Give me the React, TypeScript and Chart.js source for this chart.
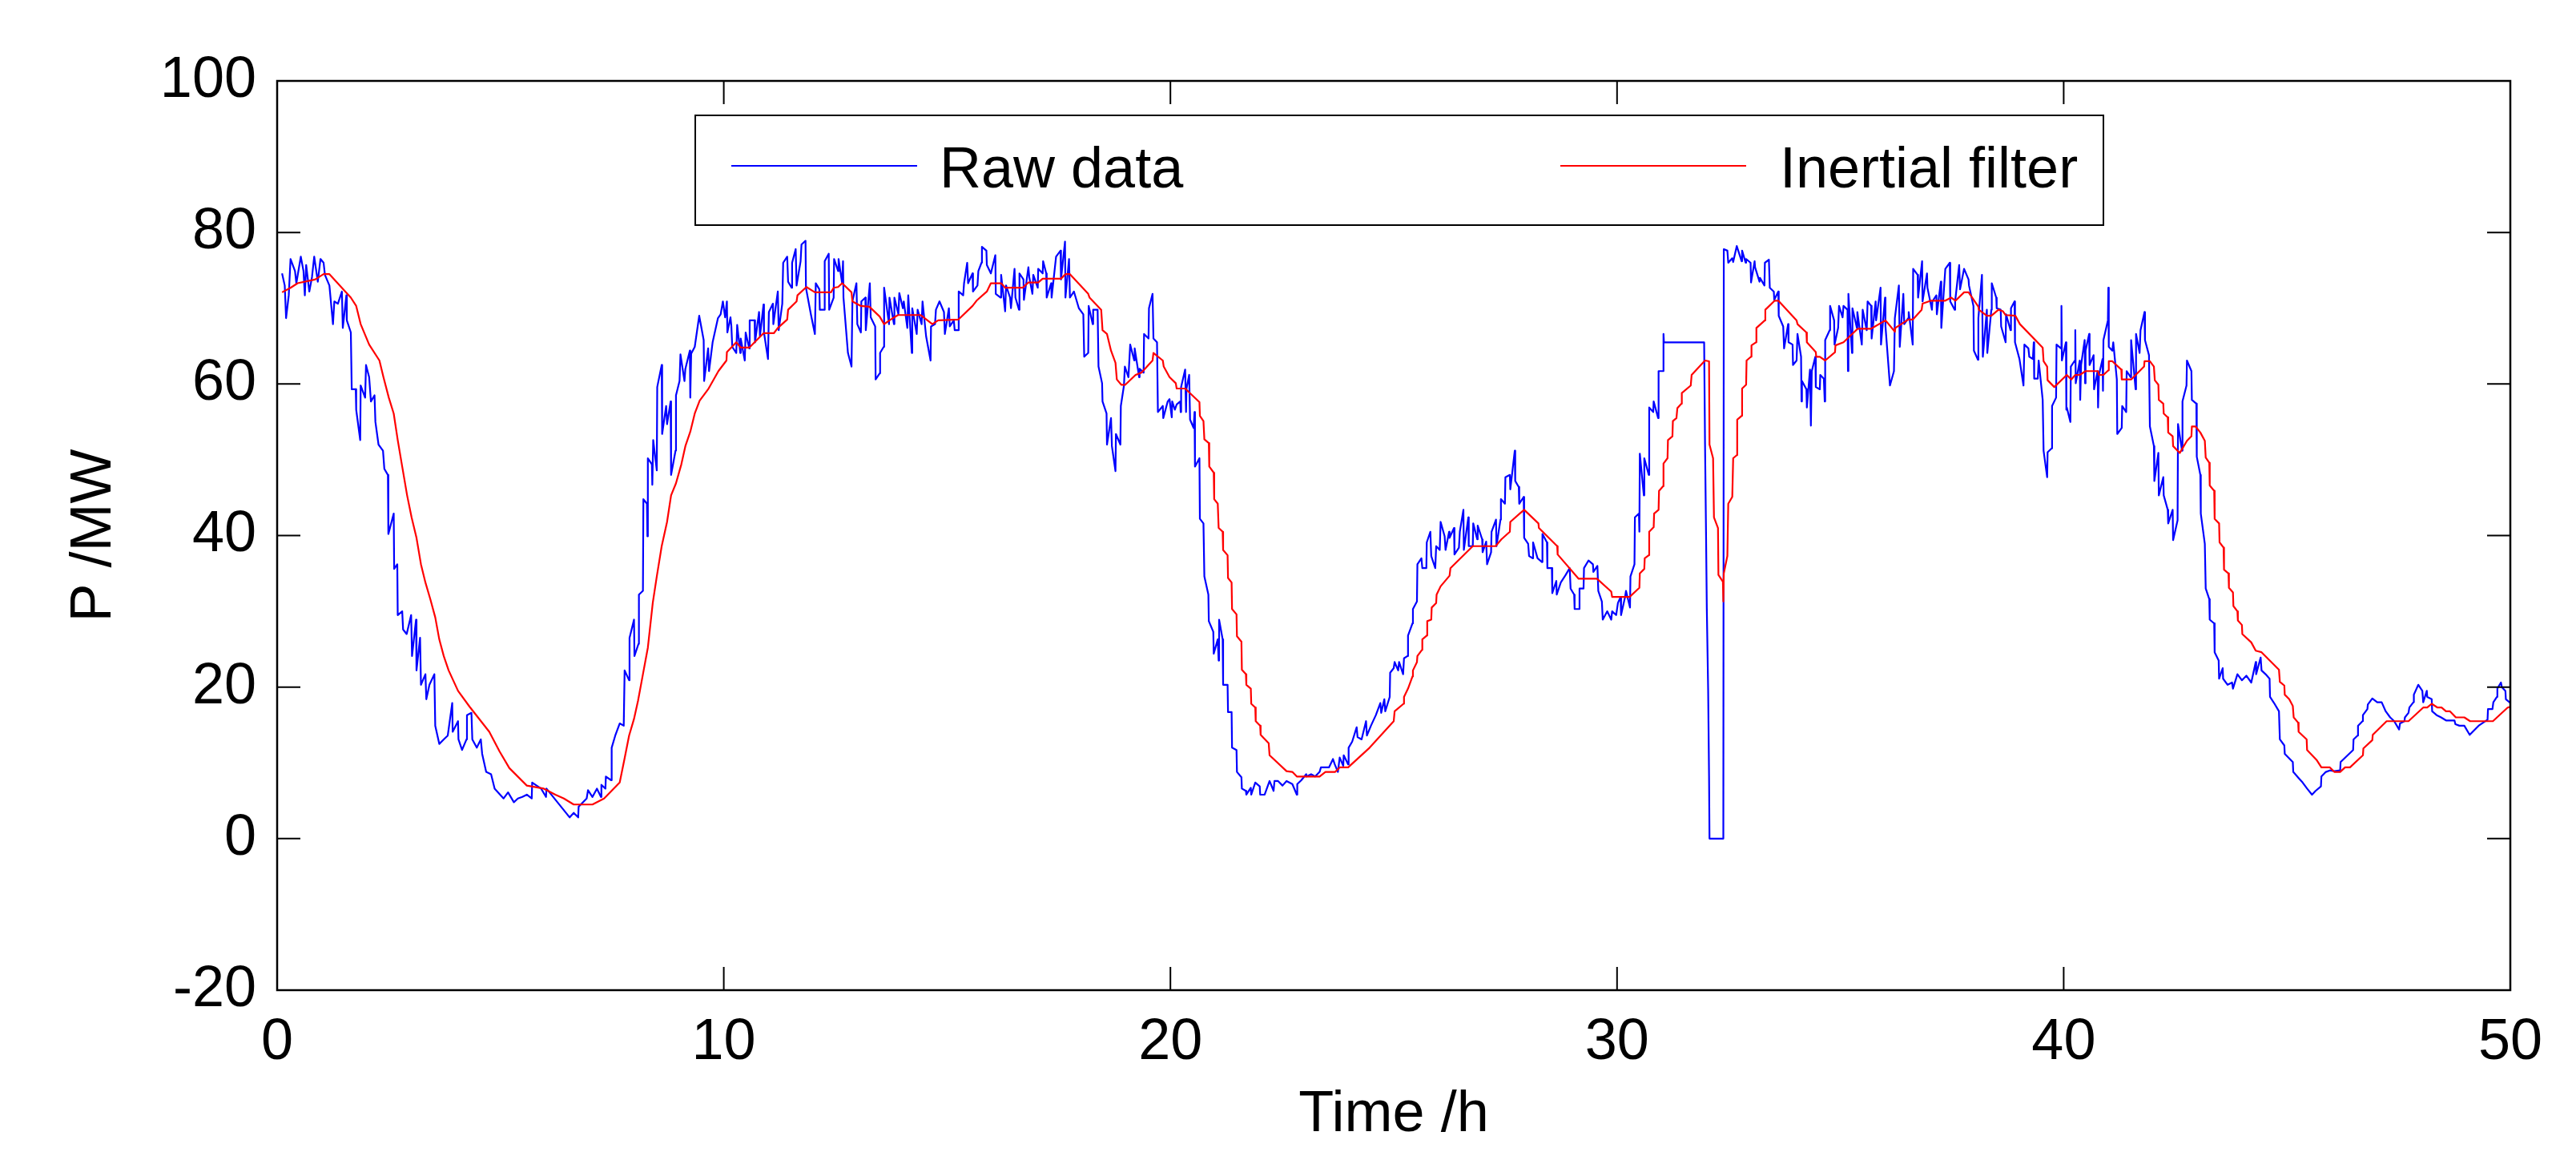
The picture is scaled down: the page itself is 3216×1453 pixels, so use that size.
import { useEffect, useRef } from 'react';
import { Chart, registerables } from 'chart.js';

Chart.register(...registerables);

const hourTicks = [0, 10, 20, 30, 40, 50];
const powerTicks = [-20, 0, 20, 40, 60, 80, 100];
const seriesNames = ['Raw data', 'Inertial filter'];

// [time /h, power /MW]
const rawPower: [number, number][] = [
  // 0 - 10 h
  [0.11, 74.6], [0.17, 73.0], [0.20, 68.7], [0.26, 71.7], [0.30, 76.5], [0.40, 74.9], [0.43, 73.3], [0.53, 76.8],
  [0.59, 74.9], [0.62, 71.7], [0.65, 75.7], [0.72, 72.2], [0.78, 74.1], [0.83, 76.8], [0.91, 73.5], [0.97, 76.5],
  [1.04, 76.0], [1.07, 74.4], [1.17, 73.0], [1.25, 67.9], [1.28, 70.9], [1.36, 70.6], [1.45, 72.2], [1.47, 67.4],
  [1.55, 71.7], [1.56, 68.4], [1.65, 66.8], [1.67, 59.3], [1.76, 59.3], [1.77, 56.6], [1.86, 52.6], [1.87, 59.8],
  [1.97, 58.2], [1.99, 62.5], [2.06, 60.9], [2.10, 57.7], [2.18, 58.5], [2.20, 55.0], [2.27, 52.0], [2.37, 51.2],
  [2.40, 48.8], [2.48, 48.0], [2.49, 40.2], [2.61, 42.9], [2.62, 35.6], [2.69, 36.2], [2.70, 29.5], [2.80, 30.0],
  [2.82, 27.6], [2.90, 27.0], [3.00, 29.5], [3.02, 24.1], [3.11, 28.9], [3.12, 22.2], [3.20, 26.5], [3.22, 20.3],
  [3.32, 21.7], [3.34, 18.4], [3.41, 20.3], [3.52, 21.7], [3.54, 14.9], [3.63, 12.5], [3.73, 13.1], [3.82, 13.6],
  [3.92, 17.9], [3.93, 14.1], [4.05, 15.5], [4.06, 13.1], [4.14, 11.7], [4.24, 13.1], [4.25, 16.3], [4.35, 16.6],
  [4.37, 13.1], [4.47, 12.0], [4.56, 13.1], [4.59, 11.2], [4.68, 8.8], [4.79, 8.5], [4.87, 6.6], [5.07, 5.3],
  [5.17, 6.1], [5.30, 4.8], [5.39, 5.3], [5.49, 5.5], [5.59, 5.8], [5.70, 5.3], [5.71, 7.4], [5.91, 6.6],
  [6.02, 5.5], [6.03, 6.6], [6.55, 2.8], [6.64, 3.4], [6.74, 2.8], [6.75, 4.2], [6.93, 5.3], [6.96, 6.4],
  [7.06, 5.5], [7.16, 6.6], [7.25, 5.5], [7.26, 7.1], [7.35, 6.6], [7.36, 8.2], [7.48, 7.7], [7.49, 12.0],
  [7.57, 13.6], [7.67, 15.2], [7.76, 14.9], [7.78, 22.2], [7.88, 20.9], [7.89, 26.5], [7.99, 28.9], [8.00, 24.1],
  [8.09, 25.7], [8.10, 32.2], [8.19, 32.7], [8.20, 44.8], [8.28, 44.2], [8.29, 39.9], [8.30, 50.2], [8.39, 49.4],
  [8.40, 46.7], [8.42, 52.6], [8.50, 48.6], [8.51, 59.6], [8.61, 62.5], [8.62, 53.4], [8.71, 57.1], [8.73, 54.7],
  [8.81, 57.7], [8.82, 48.0], [8.92, 51.2], [8.93, 58.5], [9.01, 60.4], [9.03, 63.9], [9.12, 60.4], [9.14, 62.0],
  [9.24, 64.4], [9.25, 58.2], [9.27, 64.0], [9.35, 64.9], [9.45, 69.0], [9.55, 65.8], [9.56, 60.4], [9.65, 64.7],
  [9.67, 61.7], [9.75, 65.5], [9.87, 68.7],
  // 10 - 20 h
  [9.93, 69.2], [9.98, 70.9], [10.03, 68.8], [10.07, 70.9], [10.08, 66.8], [10.15, 68.8], [10.17, 67.6], [10.19, 64.9],
  [10.28, 64.1], [10.30, 67.8], [10.37, 64.1], [10.38, 66.0], [10.47, 63.1], [10.49, 66.8], [10.57, 64.7], [10.58, 68.4],
  [10.69, 68.4], [10.70, 65.5], [10.79, 69.5], [10.81, 66.3], [10.89, 70.5], [10.90, 66.8], [10.99, 63.3], [11.01, 69.5],
  [11.10, 70.6], [11.11, 67.9], [11.21, 72.2], [11.23, 67.1], [11.31, 70.6], [11.33, 76.0], [11.42, 76.8], [11.44, 73.5],
  [11.52, 72.7], [11.53, 76.0], [11.61, 77.8], [11.63, 73.0], [11.72, 76.2], [11.74, 78.4], [11.83, 78.9], [11.84, 72.7],
  [11.95, 69.2], [12.04, 66.6], [12.06, 73.3], [12.14, 72.5], [12.15, 69.8], [12.25, 69.8], [12.26, 76.2], [12.35, 77.2],
  [12.36, 69.8], [12.46, 71.4], [12.47, 76.5], [12.56, 74.9], [12.57, 76.5], [12.65, 73.3], [12.67, 76.2], [12.68, 71.4],
  [12.78, 64.1], [12.86, 62.3], [12.88, 70.9], [12.97, 73.3], [12.99, 67.9], [13.07, 66.8], [13.08, 70.9], [13.17, 71.4],
  [13.18, 67.1], [13.27, 73.3], [13.29, 68.8], [13.39, 67.6], [13.40, 60.6], [13.49, 61.4], [13.50, 64.1], [13.58, 64.9],
  [13.59, 72.7], [13.70, 67.9], [13.71, 71.4], [13.81, 67.9], [13.82, 71.4], [13.91, 69.2], [13.93, 72.0], [14.01, 70.0],
  [14.03, 70.9], [14.11, 67.4], [14.13, 71.7], [14.21, 64.1], [14.22, 70.0], [14.32, 66.6], [14.34, 69.8], [14.43, 67.9],
  [14.45, 70.9], [14.53, 66.3], [14.63, 63.1], [14.64, 67.6], [14.73, 67.9], [14.75, 69.8], [14.83, 70.9], [14.93, 69.5],
  [14.95, 66.6], [15.04, 70.0], [15.06, 67.6], [15.15, 68.4], [15.17, 67.1], [15.25, 67.1], [15.26, 72.2], [15.36, 71.7],
  [15.38, 73.3], [15.45, 76.0], [15.47, 73.3], [15.57, 74.6], [15.58, 72.2], [15.68, 73.0], [15.70, 74.9], [15.77, 76.0],
  [15.78, 78.1], [15.88, 77.6], [15.89, 75.7], [15.98, 74.6], [16.08, 77.0], [16.09, 71.9], [16.20, 71.4], [16.21, 74.4],
  [16.30, 69.6], [16.32, 73.0], [16.41, 71.4], [16.43, 70.0], [16.51, 75.2], [16.53, 71.4], [16.61, 69.8], [16.62, 74.6],
  [16.71, 73.8], [16.72, 71.1], [16.82, 75.4], [16.84, 74.1], [16.91, 71.9], [16.93, 74.4], [17.03, 72.7], [17.04, 75.2],
  [17.14, 74.6], [17.15, 76.2], [17.22, 74.6], [17.23, 71.4], [17.33, 73.3], [17.34, 71.4], [17.44, 76.8], [17.54, 77.6],
  [17.55, 73.8], [17.64, 78.8], [17.65, 71.4], [17.73, 76.5], [17.75, 71.4], [17.84, 72.2], [17.95, 70.0], [18.05, 69.2],
  [18.07, 63.6], [18.16, 64.1], [18.17, 70.3], [18.26, 67.9], [18.27, 69.8], [18.37, 69.8], [18.39, 62.3], [18.47, 60.1],
  [18.48, 57.7], [18.57, 56.1], [18.58, 52.0], [18.67, 55.5], [18.69, 51.8], [18.77, 48.5], [18.78, 53.4], [18.88, 52.0],
  [18.89, 57.1], [18.96, 59.8], [18.98, 62.3], [19.06, 60.9], [19.10, 65.2], [19.19, 63.1], [19.20, 64.7], [19.30, 60.9],
  [19.31, 62.0], [19.40, 61.5], [19.41, 66.6], [19.51, 66.0], [19.52, 70.0], [19.60, 71.9], [19.62, 66.0], [19.70, 65.5],
  [19.72, 56.3], [19.83, 57.1], [19.84, 55.5], [19.94, 57.7],
  // 20 - 30 h
  [19.98, 58.0], [20.03, 55.6], [20.04, 57.7], [20.10, 56.6], [20.14, 57.3], [20.22, 57.7], [20.23, 56.3], [20.24, 59.6],
  [20.33, 61.9], [20.35, 56.3], [20.36, 59.4], [20.42, 61.2], [20.44, 55.3], [20.52, 54.2], [20.54, 56.3], [20.55, 49.1],
  [20.65, 50.2], [20.66, 42.2], [20.74, 41.6], [20.76, 34.6], [20.85, 32.2], [20.86, 28.7], [20.96, 27.3], [20.97, 24.4],
  [21.06, 26.3], [21.08, 23.5], [21.09, 28.9], [21.17, 26.3], [21.18, 20.3], [21.28, 20.3], [21.29, 16.7], [21.37, 16.7],
  [21.38, 12.0], [21.48, 11.7], [21.49, 8.8], [21.59, 8.1], [21.60, 6.6], [21.69, 6.3], [21.70, 5.8], [21.80, 6.7],
  [21.81, 5.8], [21.90, 7.4], [22.00, 6.9], [22.01, 5.8], [22.11, 5.8], [22.22, 7.6], [22.31, 6.3], [22.33, 7.6],
  [22.41, 7.6], [22.51, 7.0], [22.60, 7.6], [22.73, 7.2], [22.83, 5.8], [22.84, 7.2], [22.93, 7.7], [23.04, 8.5],
  [23.05, 8.2], [23.15, 8.5], [23.24, 8.2], [23.34, 8.8], [23.37, 9.4], [23.55, 9.4], [23.64, 10.5], [23.68, 9.8],
  [23.75, 8.8], [23.79, 10.7], [23.87, 9.6], [23.88, 11.0], [23.98, 9.8], [23.99, 12.0], [24.07, 12.8], [24.17, 14.7],
  [24.19, 13.4], [24.28, 13.1], [24.38, 15.5], [24.40, 13.6], [24.49, 14.9], [24.60, 16.3], [24.70, 17.9], [24.72, 16.6],
  [24.79, 18.4], [24.81, 16.8], [24.91, 18.7], [24.92, 21.9], [25.00, 22.5], [25.02, 23.3], [25.10, 22.2], [25.12, 23.3],
  [25.21, 21.7], [25.23, 23.8], [25.31, 24.1], [25.32, 26.8], [25.42, 28.4], [25.43, 30.3], [25.52, 31.3], [25.53, 36.2],
  [25.62, 37.0], [25.64, 35.7], [25.73, 35.7], [25.74, 39.1], [25.82, 40.5], [25.84, 37.3], [25.93, 35.7], [25.95, 38.6],
  [26.03, 38.1], [26.05, 41.8], [26.14, 39.9], [26.16, 38.1], [26.24, 40.5], [26.25, 39.7], [26.35, 41.0], [26.36, 37.5],
  [26.46, 38.4], [26.48, 40.5], [26.56, 43.4], [26.57, 38.1], [26.67, 42.4], [26.68, 38.6], [26.77, 38.6], [26.78, 41.6],
  [26.87, 39.5], [26.88, 41.3], [26.98, 39.5], [26.99, 37.8], [27.07, 39.2], [27.09, 36.2], [27.18, 37.8], [27.19, 40.5],
  [27.29, 42.1], [27.30, 38.6], [27.39, 42.1], [27.40, 44.8], [27.49, 44.2], [27.50, 47.7], [27.60, 48.0], [27.61, 46.1],
  [27.71, 51.2], [27.72, 47.2], [27.80, 46.4], [27.81, 44.2], [27.91, 45.1], [27.92, 39.7], [28.01, 38.9], [28.03, 37.3],
  [28.11, 37.0], [28.12, 39.1], [28.22, 37.0], [28.32, 36.5], [28.33, 40.2], [28.43, 39.1], [28.44, 35.7], [28.54, 35.7],
  [28.55, 32.4], [28.64, 34.0], [28.65, 32.2], [28.74, 33.8], [28.85, 34.8], [28.94, 35.7], [28.96, 33.0], [29.04, 32.2],
  [29.05, 30.3], [29.15, 30.3], [29.16, 33.0], [29.25, 33.0], [29.26, 35.7], [29.36, 36.7], [29.46, 36.2], [29.47, 35.2],
  [29.56, 36.0], [29.58, 32.7], [29.66, 31.3], [29.68, 28.9], [29.78, 30.0], [29.87, 28.9], [29.89, 30.0], [29.98, 29.5],
  // 30 - 40 h
  [30.02, 31.1], [30.08, 31.9], [30.09, 29.5], [30.18, 31.9], [30.20, 32.7], [30.29, 30.5], [30.30, 34.6], [30.39, 36.2],
  [30.40, 42.4], [30.49, 42.9], [30.50, 40.5], [30.51, 50.8], [30.60, 45.3], [30.61, 50.2], [30.71, 48.0], [30.72, 56.9],
  [30.81, 56.3], [30.82, 57.7], [30.92, 55.5], [30.93, 61.7], [31.03, 61.7], [31.04, 66.6], [31.05, 65.5], [31.95, 65.5],
  [31.97, 52.0], [31.99, 41.6], [32.01, 30.3], [32.04, 19.5], [32.06, 8.2], [32.07, 0.0], [32.38, 0.0], [32.39, 77.8],
  [32.47, 77.6], [32.49, 76.0], [32.58, 76.6], [32.60, 76.1], [32.68, 78.2], [32.79, 76.2], [32.80, 77.6], [32.88, 76.0],
  [32.89, 76.5], [32.99, 76.0], [33.00, 73.4], [33.08, 76.2], [33.09, 75.4], [33.19, 73.5], [33.20, 74.0], [33.30, 73.0],
  [33.31, 76.0], [33.40, 76.4], [33.42, 72.7], [33.51, 72.2], [33.52, 71.1], [33.61, 72.2], [33.62, 69.0], [33.72, 67.6],
  [33.74, 64.7], [33.83, 67.9], [33.84, 65.5], [33.93, 65.2], [33.94, 62.5], [34.02, 63.1], [34.04, 66.6], [34.12, 63.6],
  [34.13, 57.7], [34.14, 60.4], [34.24, 59.3], [34.25, 56.9], [34.32, 61.9], [34.34, 54.5], [34.36, 61.7], [34.44, 63.6],
  [34.45, 59.6], [34.54, 59.3], [34.55, 61.2], [34.63, 60.7], [34.65, 57.7], [34.66, 65.8], [34.76, 67.1], [34.77, 70.3],
  [34.86, 68.4], [34.87, 65.2], [34.95, 67.4], [34.97, 70.3], [35.05, 68.8], [35.07, 70.3], [35.16, 69.8], [35.17, 61.7],
  [35.18, 71.9], [35.26, 64.1], [35.27, 70.0], [35.37, 67.4], [35.38, 69.5], [35.48, 65.2], [35.50, 69.8], [35.59, 67.1],
  [35.61, 70.9], [35.69, 70.3], [35.70, 66.0], [35.79, 70.9], [35.80, 68.4], [35.90, 72.7], [35.91, 65.2], [36.00, 71.4],
  [36.01, 67.6], [36.11, 59.8], [36.20, 61.7], [36.22, 68.7], [36.31, 73.0], [36.33, 64.9], [36.41, 71.9], [36.43, 67.9],
  [36.52, 68.7], [36.53, 69.5], [36.62, 65.2], [36.63, 75.2], [36.73, 74.4], [36.74, 71.4], [36.83, 76.2], [36.84, 70.9],
  [36.94, 74.6], [36.95, 72.7], [37.05, 69.8], [37.06, 70.9], [37.15, 71.7], [37.16, 69.2], [37.25, 73.5], [37.26, 67.4],
  [37.35, 75.2], [37.45, 76.0], [37.46, 70.9], [37.56, 69.8], [37.57, 70.9], [37.66, 75.7], [37.68, 72.5], [37.77, 75.2],
  [37.87, 73.8], [37.88, 73.0], [37.98, 70.3], [37.99, 64.4], [38.08, 63.2], [38.09, 68.7], [38.17, 74.4], [38.19, 63.6],
  [38.28, 69.8], [38.29, 64.1], [38.38, 69.8], [38.39, 73.3], [38.49, 71.4], [38.50, 70.0], [38.59, 69.8], [38.60, 67.6],
  [38.70, 65.5], [38.71, 69.2], [38.81, 67.1], [38.82, 70.0], [38.90, 70.9], [38.91, 65.5], [39.01, 63.3], [39.10, 59.8],
  [39.12, 65.2], [39.21, 64.7], [39.23, 63.6], [39.31, 63.3], [39.33, 65.5], [39.34, 60.7], [39.42, 60.7], [39.44, 63.1],
  [39.53, 57.9], [39.55, 51.2], [39.63, 47.7], [39.64, 51.0], [39.73, 51.5], [39.74, 57.1], [39.83, 58.2], [39.84, 65.2],
  [39.94, 64.7], [39.95, 70.3], [39.96, 63.1], [40.05, 65.5], [40.06, 56.6],
  // 40 - 50 h
  [40.07, 56.9], [40.15, 55.0], [40.16, 62.3], [40.25, 63.1], [40.26, 67.1], [40.27, 60.1], [40.36, 63.1], [40.37, 57.9],
  [40.39, 62.5], [40.47, 65.8], [40.48, 60.1], [40.49, 64.4], [40.57, 66.6], [40.58, 62.5], [40.67, 63.8], [40.68, 59.3],
  [40.76, 61.7], [40.77, 56.9], [40.79, 61.2], [40.87, 63.3], [40.88, 59.1], [40.89, 65.8], [40.99, 68.4], [41.00, 72.7],
  [41.01, 64.9], [41.09, 64.4], [41.11, 65.5], [41.19, 60.6], [41.20, 53.4], [41.30, 54.2], [41.31, 57.1], [41.40, 56.3],
  [41.41, 61.7], [41.50, 60.9], [41.51, 65.8], [41.61, 59.3], [41.62, 66.6], [41.70, 64.1], [41.72, 67.1], [41.81, 69.5],
  [41.82, 65.8], [41.91, 63.8], [41.93, 54.4], [42.02, 51.8], [42.03, 47.2], [42.12, 50.9], [42.13, 45.3], [42.23, 47.7],
  [42.24, 45.3], [42.33, 43.4], [42.34, 41.6], [42.44, 43.4], [42.45, 39.4], [42.55, 42.0], [42.56, 54.7], [42.65, 51.2],
  [42.66, 57.7], [42.75, 59.8], [42.76, 63.1], [42.86, 61.7], [42.87, 57.9], [42.97, 57.4], [42.98, 50.4], [43.06, 48.0],
  [43.07, 42.9], [43.16, 38.9], [43.18, 33.0], [43.26, 31.6], [43.27, 28.9], [43.37, 28.4], [43.38, 24.6], [43.47, 23.5],
  [43.48, 21.1], [43.56, 22.5], [43.57, 21.1], [43.67, 20.3], [43.77, 20.6], [43.79, 19.8], [43.89, 21.7], [43.99, 20.9],
  [44.09, 21.5], [44.20, 20.6], [44.30, 23.3], [44.31, 21.7], [44.41, 23.9], [44.43, 22.2], [44.52, 21.7], [44.61, 21.1],
  [44.62, 18.7], [44.71, 17.9], [44.82, 16.8], [44.84, 13.1], [44.94, 12.3], [44.95, 11.2], [45.13, 10.1], [45.14, 8.8],
  [45.26, 8.0], [45.35, 7.4], [45.45, 6.6], [45.56, 5.8], [45.64, 6.3], [45.76, 6.9], [45.77, 8.2], [45.87, 8.8],
  [45.96, 9.0], [46.06, 8.9], [46.19, 9.0], [46.20, 10.1], [46.48, 11.7], [46.49, 13.1], [46.58, 13.6], [46.59, 14.9],
  [46.69, 15.5], [46.70, 16.3], [46.80, 17.1], [46.81, 17.7], [46.91, 18.5], [47.02, 18.0], [47.12, 18.0], [47.21, 16.8],
  [47.31, 16.0], [47.40, 15.5], [47.51, 14.4], [47.53, 15.2], [47.63, 15.5], [47.64, 16.0], [47.72, 16.6], [47.74, 17.3],
  [47.83, 18.0], [47.84, 19.0], [47.94, 20.3], [48.03, 19.5], [48.05, 18.0], [48.13, 19.5], [48.14, 18.7], [48.24, 18.4],
  [48.25, 16.8], [48.35, 16.3], [48.45, 16.0], [48.56, 15.6], [48.75, 15.6], [48.77, 15.1], [48.86, 14.9], [48.97, 14.9],
  [49.09, 13.7], [49.29, 14.9], [49.39, 15.3], [49.49, 15.7], [49.50, 17.1], [49.60, 17.1], [49.62, 18.0], [49.70, 18.7],
  [49.71, 19.8], [49.79, 20.6], [49.81, 20.0], [49.89, 19.5], [49.90, 18.4], [50.00, 17.9],
];

const filteredPower: [number, number][] = [
  [0.11, 72.1], [0.30, 72.7], [0.46, 73.3], [0.85, 73.8], [1.04, 74.5], [1.17, 74.5], [1.65, 71.4], [1.77, 70.3],
  [1.87, 67.9], [2.06, 65.2], [2.29, 63.1], [2.38, 60.9], [2.50, 58.2], [2.61, 56.1], [2.70, 52.6], [2.80, 49.1],
  [2.91, 45.3], [3.01, 42.4], [3.12, 39.7], [3.22, 36.2], [3.32, 33.8], [3.43, 31.6], [3.54, 29.2], [3.63, 26.3],
  [3.73, 24.1], [3.84, 22.2], [4.05, 19.5], [4.31, 17.4], [4.75, 14.1], [4.98, 11.5], [5.20, 9.3], [5.59, 7.0],
  [5.97, 6.6], [6.23, 5.8], [6.42, 5.3], [6.64, 4.5], [7.06, 4.5], [7.32, 5.3], [7.67, 7.4], [7.78, 10.6],
  [7.88, 13.6], [7.99, 15.8], [8.08, 18.2], [8.19, 21.7], [8.30, 25.2], [8.41, 31.1], [8.50, 34.6], [8.61, 38.6],
  [8.73, 41.8], [8.82, 45.3], [8.93, 46.9], [9.05, 49.4], [9.14, 51.8], [9.25, 53.7], [9.35, 56.1], [9.46, 57.8],
  [9.65, 59.3], [9.88, 61.7], [10.06, 63.1], [10.07, 64.2], [10.28, 65.5], [10.38, 64.8], [10.57, 64.8], [10.89, 66.7],
  [11.12, 66.7], [11.21, 67.4], [11.42, 68.5], [11.44, 69.8], [11.63, 70.9], [11.65, 71.7], [11.85, 72.8], [12.04, 72.1],
  [12.40, 72.1], [12.46, 72.7], [12.56, 72.8], [12.65, 73.3], [12.86, 72.1], [12.88, 70.9], [13.07, 70.3], [13.26, 70.2],
  [13.49, 68.9], [13.59, 67.9], [13.71, 68.4], [13.90, 69.1], [14.41, 69.1], [14.67, 67.9], [14.80, 68.4], [15.25, 68.5],
  [15.57, 70.3], [15.66, 71.0], [15.89, 72.2], [15.98, 73.3], [16.21, 73.3], [16.30, 72.7], [16.69, 72.7], [16.82, 73.4],
  [17.04, 73.4], [17.14, 73.9], [17.55, 73.9], [17.65, 74.5], [17.75, 74.5], [18.16, 71.9], [18.19, 71.4], [18.45, 69.8],
  [18.48, 67.1], [18.58, 66.6], [18.67, 64.4], [18.77, 62.8], [18.80, 60.6], [18.90, 59.9], [18.99, 59.9], [19.22, 61.2],
  [19.35, 61.5], [19.60, 63.1], [19.62, 64.1], [19.83, 63.1], [19.85, 62.3], [19.98, 60.9], [20.12, 60.1], [20.14, 59.4],
  [20.33, 59.4], [20.65, 57.6], [20.66, 55.8], [20.74, 55.1], [20.76, 52.7], [20.86, 52.2], [20.87, 49.1], [20.97, 48.3],
  [20.98, 44.8], [21.06, 44.2], [21.08, 41.0], [21.17, 40.5], [21.18, 38.1], [21.28, 37.4], [21.29, 34.4], [21.37, 33.8],
  [21.38, 30.3], [21.48, 29.6], [21.49, 26.7], [21.59, 26.0], [21.60, 22.3], [21.69, 21.7], [21.70, 20.3], [21.80, 19.8],
  [21.81, 17.8], [21.90, 17.3], [21.91, 15.5], [22.01, 14.9], [22.02, 13.7], [22.20, 12.6], [22.22, 11.0], [22.60, 8.9],
  [22.73, 8.8], [22.83, 8.2], [23.34, 8.2], [23.47, 8.8], [23.69, 8.8], [23.79, 9.4], [23.98, 9.4], [24.46, 12.0],
  [25.00, 15.5], [25.02, 16.8], [25.22, 17.8], [25.23, 18.7], [25.32, 19.8], [25.42, 21.4], [25.43, 22.2], [25.52, 23.3],
  [25.53, 24.1], [25.63, 24.9], [25.64, 26.3], [25.74, 26.8], [25.75, 28.7], [25.84, 28.9], [25.85, 30.5], [25.95, 31.1],
  [25.96, 32.2], [26.05, 33.3], [26.25, 34.7], [26.27, 35.7], [26.77, 38.6], [27.28, 38.6], [27.41, 39.5], [27.60, 40.5],
  [27.61, 41.8], [27.82, 42.9], [27.92, 43.4], [28.24, 41.6], [28.25, 41.0], [28.66, 38.6], [28.67, 37.5], [29.14, 34.3],
  [29.55, 34.3], [29.87, 32.6], [29.89, 31.9], [30.28, 31.9], [30.50, 33.1], [30.51, 35.0], [30.61, 35.6], [30.62, 37.0],
  [30.71, 37.4], [30.72, 40.5], [30.82, 41.1], [30.83, 42.9], [30.93, 43.4], [30.94, 45.9], [31.03, 46.5], [31.04, 49.5],
  [31.13, 50.2], [31.14, 52.6], [31.24, 53.1], [31.25, 55.1], [31.33, 55.5], [31.35, 56.8], [31.44, 57.4], [31.45, 58.8],
  [31.65, 59.8], [31.67, 61.2], [31.97, 63.1], [32.06, 63.0], [32.07, 52.0], [32.15, 50.2], [32.17, 42.4], [32.26, 41.0],
  [32.27, 34.8], [32.37, 33.9], [32.38, 31.3], [32.39, 35.0], [32.47, 37.3], [32.49, 44.2], [32.58, 45.1], [32.60, 50.2],
  [32.68, 50.6], [32.69, 55.3], [32.79, 55.8], [32.80, 59.4], [32.89, 59.9], [32.90, 63.1], [33.00, 63.6], [33.01, 65.1],
  [33.11, 65.5], [33.12, 67.4], [33.31, 68.4], [33.32, 69.8], [33.53, 71.0], [33.61, 71.0], [34.02, 68.4], [34.04, 67.9],
  [34.24, 66.8], [34.25, 65.5], [34.45, 64.2], [34.46, 63.6], [34.54, 63.6], [34.66, 63.1], [34.88, 64.2], [34.89, 65.1],
  [35.07, 65.5], [35.39, 67.3], [35.69, 67.3], [36.01, 68.4], [36.22, 66.9], [36.23, 67.4], [36.52, 68.5], [36.62, 68.5],
  [36.82, 69.8], [36.84, 70.6], [37.03, 71.0], [37.35, 71.0], [37.48, 71.4], [37.58, 71.0], [37.77, 72.1], [37.87, 72.1],
  [38.09, 70.2], [38.10, 69.8], [38.28, 69.0], [38.38, 69.0], [38.54, 69.8], [38.64, 69.6], [38.70, 69.1], [38.92, 69.0],
  [39.02, 67.9], [39.53, 64.8], [39.55, 63.0], [39.63, 62.3], [39.64, 60.5], [39.79, 59.6], [40.07, 61.2], [40.17, 60.6],
  [40.26, 61.2], [40.36, 61.2], [40.49, 61.7], [40.77, 61.7], [40.79, 61.2], [40.89, 61.2], [41.00, 61.8], [41.01, 63.0],
  [41.09, 63.0], [41.29, 61.9], [41.30, 60.6], [41.51, 60.6], [41.80, 62.3], [41.81, 63.0], [41.93, 63.0], [42.02, 62.3],
  [42.04, 60.5], [42.12, 59.9], [42.13, 57.9], [42.23, 57.4], [42.24, 56.1], [42.33, 55.6], [42.34, 53.6], [42.44, 53.1],
  [42.45, 51.8], [42.60, 50.9], [42.76, 52.5], [42.86, 53.1], [42.87, 54.4], [42.95, 54.4], [43.06, 53.6], [43.16, 52.5],
  [43.18, 50.3], [43.26, 49.6], [43.27, 46.6], [43.37, 45.9], [43.38, 42.2], [43.48, 41.6], [43.49, 39.1], [43.58, 38.4],
  [43.59, 35.5], [43.69, 35.0], [43.70, 33.1], [43.79, 32.5], [43.80, 30.7], [43.89, 30.0], [43.90, 28.8], [43.99, 28.2],
  [44.00, 27.0], [44.20, 25.9], [44.30, 24.8], [44.43, 24.6], [44.82, 22.3], [44.84, 20.7], [44.94, 20.2], [44.95, 19.0],
  [45.05, 18.4], [45.13, 17.5], [45.15, 16.0], [45.25, 15.3], [45.26, 14.1], [45.44, 13.1], [45.45, 11.7], [45.66, 10.4],
  [45.77, 9.4], [45.96, 9.4], [46.06, 8.8], [46.19, 8.8], [46.30, 9.4], [46.41, 9.4], [46.70, 11.0], [46.71, 11.9],
  [46.91, 13.0], [46.92, 13.7], [47.23, 15.5], [47.72, 15.5], [48.05, 17.3], [48.14, 17.3], [48.24, 17.8], [48.37, 17.3],
  [48.46, 17.3], [48.56, 16.8], [48.65, 16.8], [48.78, 16.0], [48.97, 16.0], [49.10, 15.5], [49.61, 15.5], [49.94, 17.3],
  [50.00, 17.4],
];

const FONT = "'Liberation Sans', Arial, Helvetica, sans-serif";
const TICK_LEN = 29;

// MATLAB-style frame: closed box, inward ticks on all four sides, legend box inside the axes
const matlabFrame = {
  id: 'matlabFrame',
  afterDraw(chart: any) {
    const { ctx, chartArea: a } = chart;
    const xs = chart.scales.x;
    const ys = chart.scales.y;
    ctx.save();
    ctx.strokeStyle = '#000';
    ctx.lineWidth = 2;
    ctx.beginPath();
    hourTicks.forEach((v) => {
      const px = xs.getPixelForValue(v);
      ctx.moveTo(px, a.bottom);
      ctx.lineTo(px, a.bottom - TICK_LEN);
      ctx.moveTo(px, a.top);
      ctx.lineTo(px, a.top + TICK_LEN);
    });
    powerTicks.forEach((v) => {
      const py = ys.getPixelForValue(v);
      ctx.moveTo(a.left, py);
      ctx.lineTo(a.left + TICK_LEN, py);
      ctx.moveTo(a.right, py);
      ctx.lineTo(a.right - TICK_LEN, py);
    });
    ctx.stroke();
    ctx.lineWidth = 2.5;
    ctx.strokeRect(a.left, a.top, a.right - a.left, a.bottom - a.top);

    // legend
    const lx = a.left + 522;
    const ly = a.top + 43;
    ctx.fillStyle = '#fff';
    ctx.fillRect(lx, ly, 1758, 137);
    ctx.lineWidth = 2;
    ctx.strokeRect(lx, ly, 1758, 137);
    const items = [
      { x0: 567, x1: 799, tx: 827 },
      { x0: 1602, x1: 1834, tx: 1876 },
    ];
    ctx.font = `72px ${FONT}`;
    ctx.textBaseline = 'alphabetic';
    ctx.textAlign = 'left';
    items.forEach((it, i) => {
      const ds = chart.data.datasets[i];
      ctx.strokeStyle = ds.borderColor;
      ctx.lineWidth = 2.2;
      ctx.beginPath();
      ctx.moveTo(a.left + it.x0, a.top + 106);
      ctx.lineTo(a.left + it.x1, a.top + 106);
      ctx.stroke();
      ctx.fillStyle = '#000';
      ctx.fillText(ds.label, a.left + it.tx, a.top + 133);
    });
    ctx.restore();
  },
};

export default function App() {
  const canvasRef = useRef<HTMLCanvasElement>(null);

  useEffect(() => {
    if (!canvasRef.current) return;
    const chart = new Chart(canvasRef.current, {
      type: 'line',
      data: {
        datasets: [
          {
            label: seriesNames[0],
            data: rawPower.map(([h, p]) => ({ x: h, y: p })),
            borderColor: '#0000ff',
            borderWidth: 2.2,
            pointRadius: 0,
            order: 1,
          },
          {
            label: seriesNames[1],
            data: filteredPower.map(([h, p]) => ({ x: h, y: p })),
            borderColor: '#ff0000',
            borderWidth: 2.2,
            pointRadius: 0,
            order: 0,
          },
        ],
      },
      options: {
        animation: false,
        responsive: true,
        maintainAspectRatio: false,
        devicePixelRatio: 1,
        layout: { padding: { top: 101, right: 82, left: 0, bottom: 0 } },
        elements: { line: { tension: 0, borderJoinStyle: 'round' } },
        plugins: { legend: { display: false }, tooltip: { enabled: false } },
        scales: {
          x: {
            type: 'linear',
            min: 0,
            max: 50,
            afterBuildTicks: (s: any) => {
              s.ticks = hourTicks.map((v) => ({ value: v }));
            },
            afterFit: (s: any) => {
              s.height = 217;
            },
            grid: { display: false },
            border: { display: false },
            ticks: { color: '#000', font: { family: FONT, size: 72 }, padding: 15, maxRotation: 0, autoSkip: false },
            title: {
              display: true,
              text: 'Time /h',
              color: '#000',
              font: { family: FONT, size: 72 },
              padding: { top: 0, bottom: 18 },
            },
          },
          y: {
            type: 'linear',
            min: -20,
            max: 100,
            afterBuildTicks: (s: any) => {
              s.ticks = powerTicks.map((v) => ({ value: v }));
            },
            afterFit: (s: any) => {
              s.width = 346;
            },
            grid: { display: false },
            border: { display: false },
            ticks: { color: '#000', font: { family: FONT, size: 72 }, padding: 18, autoSkip: false },
            title: {
              display: true,
              text: 'P /MW',
              color: '#000',
              font: { family: FONT, size: 72 },
              padding: { top: 75, bottom: 0 },
            },
          },
        },
      },
      plugins: [matlabFrame],
    });
    return () => chart.destroy();
  }, []);

  return (
    <div style={{ position: 'fixed', left: 0, top: 0, width: 3216, height: 1453, background: '#fff' }}>
      <canvas ref={canvasRef} />
    </div>
  );
}
